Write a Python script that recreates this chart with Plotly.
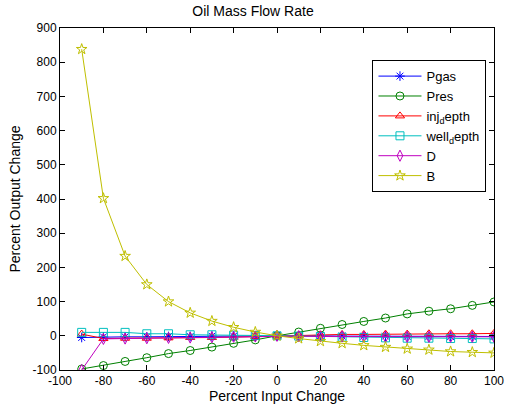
import plotly.graph_objects as go

x = [-90, -80, -70, -60, -50, -40, -30, -20, -10, 0, 10, 20, 30, 40, 50, 60, 70, 80, 90, 100]

pgas = [-5, -3, -3, -3, -2, -2, -1, -1, -1, 0, 0, 0, -1, -1, -1, -2, -2, -2, -2, -2]
pres = [-97, -87, -75, -64, -52, -43, -33, -22, -12, 0, 11, 22, 33, 42, 52, 64, 72, 79, 89, 99]
inj_depth = [5, -8, -7, -7, -6, -5, -5, -4, -2, 0, 2, 3, 4, 4, 5, 5, 6, 6, 6, 7]
well_depth = [10, 10, 10, 6, 6, 3, 3, 2, 1, 0, -1, -2, -4, -5, -6, -7, -7, -8, -8, -9]
d_vals = [-100, -9, -8, -7, -6, -5, -4, -3, -2, 0, -1, -2, -2, -3, -3, -3, -3, -3, -3, -3]
b_vals = [838, 402, 233, 150, 100, 67, 43, 25, 11, 0, -8, -16, -22, -28, -33, -38, -41, -46, -48, -50]

x_ticks = list(range(-100, 101, 20))
y_ticks = list(range(-100, 901, 100))

series = [
    ("Pgas", pgas, "#0000ff", "asterisk-open"),
    ("Pres", pres, "#008000", "circle-open"),
    ("inj<sub>d</sub>epth", inj_depth, "#ff0000", "triangle-up-open"),
    ("well<sub>d</sub>epth", well_depth, "#00bfbf", "square-open"),
    ("D", d_vals, "#bf00bf", "diamond-tall-open"),
    ("B", b_vals, "#bfbf00", "star-open"),
]

fig = go.Figure()
for name, vals, color, sym in series:
    fig.add_trace(go.Scatter(
        x=x, y=vals, name=name, mode="lines+markers",
        line=dict(color=color, width=1),
        marker=dict(symbol=sym, size=8, color=color, line=dict(color=color, width=1)),
    ))

FONT = "Liberation Sans, Arial, sans-serif"
axis_common = dict(
    showline=True, linecolor="black", linewidth=1, mirror="ticks",
    ticks="inside", ticklen=5, tickcolor="black", showgrid=False, zeroline=False,
    tickfont=dict(family=FONT, size=12, color="black"),
    ticklabeloverflow="allow", automargin=False,
)

fig.update_layout(
    width=506, height=411,
    margin=dict(l=60, r=12, t=28, b=41),
    paper_bgcolor="white", plot_bgcolor="white",
    font=dict(family=FONT, size=12, color="black"),
    title=dict(text="Oil Mass Flow Rate", x=0.5, xanchor="center", y=0.985, yanchor="top",
               font=dict(size=14)),
    xaxis=dict(range=[-100, 100], tickvals=x_ticks, ticktext=[str(v) for v in x_ticks],
               title=dict(text="Percent Input Change", standoff=3, font=dict(size=14)), **axis_common),
    yaxis=dict(range=[-100, 900], tickvals=y_ticks, ticktext=[str(v) for v in y_ticks],
               title=dict(text="Percent Output Change", standoff=8, font=dict(size=14)), **axis_common),
    legend=dict(x=0.72, y=0.906, xanchor="left", yanchor="top",
                bordercolor="black", borderwidth=1, bgcolor="white",
                font=dict(size=13), itemwidth=43, tracegroupgap=0),
    showlegend=True,
)

fig.write_html("out.html")
